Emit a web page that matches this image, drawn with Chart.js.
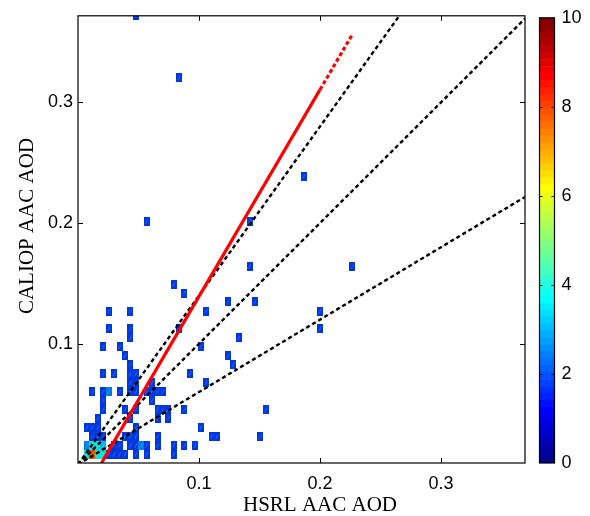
<!DOCTYPE html>
<html><head><meta charset="utf-8">
<script src="https://cdn.jsdelivr.net/npm/chart.js@4/dist/chart.umd.min.js"></script>
<style>
html,body{margin:0;padding:0;background:#fff;}
#wrap{position:relative;width:590px;height:516px;overflow:hidden;}
#main{position:absolute;left:0;top:0;}
#cbar{position:absolute;left:520px;top:0;}
</style></head><body>
<div id="wrap"><canvas id="main" width="590" height="516"></canvas><canvas id="cbar" width="70" height="516"></canvas></div>
<script>
// ---------------- data ----------------
const xTitle = 'HSRL AAC AOD';
const yTitle = 'CALIOP AAC AOD';
const xTicks = [0.1, 0.2, 0.3];
const yTicks = [0.1, 0.2, 0.3];
const cbarTicks = [0, 2, 4, 6, 8, 10];
const xRange = [0, 0.3694];
const yRange = [0.0012, 0.3717];
const binWidthX = 0.00448;   // histogram bin size (HSRL AOD)
const binWidthY = 0.00743;   // histogram bin size (CALIOP AOD)

// 2-D histogram cells: bin centres and values (colour scale 0..10)
const binX = [
 0.0478,0.0836,0.0567,0.1418,0.1865,0.1418,0.2268,0.0880,0.0791,0.1239,0.1462,
 0.0254,0.0433,0.1060,0.2000,
 0.0254,0.0433,0.0836,0.2000,
 0.0433,0.1328,
 0.0209,0.0343,0.1015,
 0.0388,0.1239,
 0.0433,0.1283,
 0.0209,0.0298,0.0433,0.0478,0.0925,
 0.0433,0.0478,0.0612,0.1060,
 0.0119,0.0209,0.0254,0.0343,0.0433,0.0478,0.0567,0.0612,0.0657,0.0701,
 0.0209,0.0612,
 0.0209,0.0388,0.0478,0.0657,0.0701,0.0746,0.0880,0.1552,
 0.0164,0.0433,0.0657,0.0746,
 0.0075,0.0119,0.0164,0.0478,0.1015,
 0.0119,0.0164,0.0209,0.0388,0.0433,0.0478,0.0657,0.1104,0.1149,0.1507,
 0.0075,0.0119,0.0164,0.0209,0.0298,0.0343,0.0433,0.0478,0.0522,0.0567,0.0657,0.0791,0.0880,0.0970,
 0.0075,0.0119,0.0164,0.0209,0.0254,0.0298,0.0343,0.0388,0.0478,0.0567,0.0791
];
const binY = [
 0.3723,0.3203,0.2014,0.2014,0.2386,0.1643,0.1643,0.1420,0.1494,0.1346,0.1346,
 0.1271,0.1271,0.1271,0.1271,
 0.1123,0.1123,0.1123,0.1123,
 0.1048,0.1048,
 0.0974,0.0974,0.0974,
 0.0900,0.0900,
 0.0826,0.0826,
 0.0751,0.0751,0.0751,0.0751,0.0751,
 0.0677,0.0677,0.0677,0.0677,
 0.0603,0.0603,0.0603,0.0603,0.0603,0.0603,0.0603,0.0603,0.0603,0.0603,
 0.0528,0.0528,
 0.0454,0.0454,0.0454,0.0454,0.0454,0.0454,0.0454,0.0454,
 0.0380,0.0380,0.0380,0.0380,
 0.0306,0.0306,0.0306,0.0306,0.0306,
 0.0231,0.0231,0.0231,0.0231,0.0231,0.0231,0.0231,0.0231,0.0231,0.0231,
 0.0157,0.0157,0.0157,0.0157,0.0157,0.0157,0.0157,0.0157,0.0157,0.0157,0.0157,0.0157,0.0157,0.0157,
 0.0083,0.0083,0.0083,0.0083,0.0083,0.0083,0.0083,0.0083,0.0083,0.0083,0.0083
];
const binValue = [
 1.8,1.8,1.8,1.8,1.8,1.8,1.8,1.8,1.8,1.8,1.8,
 1.8,1.8,1.8,1.8,
 1.8,1.8,1.8,1.8,
 1.8,1.8,
 1.8,1.8,1.8,
 1.8,1.8,
 1.8,1.8,
 1.8,1.8,1.8,1.8,1.8,
 1.8,1.8,1.8,1.8,
 1.8,1.8,2.6,1.8,1.8,1.8,1.8,1.8,1.8,1.8,
 1.8,1.8,
 1.8,1.8,1.8,1.8,1.8,1.8,1.8,1.8,
 1.8,1.8,1.8,1.8,
 1.8,1.8,1.8,1.8,1.8,
 1.8,1.8,1.8,1.8,1.8,1.8,1.8,1.8,1.8,1.8,
 2.6,3.8,3.8,3.2,1.8,1.8,1.8,1.8,2.6,1.8,1.8,1.8,1.8,1.8,
 3.8,7.7,3.8,3.8,1.8,1.8,1.8,1.8,1.8,1.8,1.8
];

// reference lines y = s * x (1:1 and +/-40%)
const refSlopes = [1.0, 1.4, 0.6];
// linear fit CALIOP = a * HSRL + b
const fitSlope = 1.713;
const fitIntercept = -0.0321;
const fitSolidX = [0.0194, 0.2000];
const fitDashX = [0.2000, 0.2262];

// ---------------- colour map (MATLAB jet, 64 levels) ----------------
function jetRow(i) { // i = 1..64
  let r, g, b;
  if (i <= 8) { r = 0; g = 0; b = 0.5 + 0.0625 * i; }
  else if (i <= 24) { r = 0; g = (i - 8) * 0.0625; b = 1; }
  else if (i <= 40) { r = (i - 24) * 0.0625; g = 1; b = 1 - (i - 24) * 0.0625; }
  else if (i <= 56) { r = 1; g = 1 - (i - 40) * 0.0625; b = 0; }
  else { r = 1 - (i - 56) * 0.0625; g = 0; b = 0; }
  return [Math.round(r*255), Math.round(g*255), Math.round(b*255)];
}
function rgb(a) { return `rgb(${a[0]},${a[1]},${a[2]})`; }
function jetColor(v) {
  const idx = Math.max(1, Math.min(64, Math.floor(v / 10 * 64) + 1));
  return jetRow(idx);
}

// cell image (pointStyle) sized from the scales
const cellCache = {};
function cellStyle(ctx) {
  const ch = ctx.chart;
  const sx = ch.scales.x, sy = ch.scales.y;
  const raw = ctx.raw || {};
  const w = Math.abs(sx.getPixelForValue(binWidthX) - sx.getPixelForValue(0));
  const h = Math.abs(sy.getPixelForValue(binWidthY) - sy.getPixelForValue(0));
  const c3 = jetColor(raw.v || 0);
  const key = c3.join(',') + '|' + w.toFixed(2) + '|' + h.toFixed(2);
  if (cellCache[key]) return cellCache[key];
  const c = document.createElement('canvas');
  c.width = Math.max(1, Math.round(w) + 1);
  c.height = Math.max(1, Math.round(h));
  const g = c.getContext('2d');
  g.fillStyle = rgb(c3.map(v => Math.round(v * 0.88)));
  g.fillRect(0, 0, c.width, c.height);
  g.strokeStyle = 'rgba(255,255,255,0.28)';
  g.lineWidth = 0.8;
  g.beginPath();
  g.moveTo(c.width * 0.3, c.height * 0.75);
  g.lineTo(c.width * 0.7, c.height * 0.25);
  g.stroke();
  cellCache[key] = c;
  return c;
}

const cells = binX.map((x, i) => ({ x: x, y: binY[i], v: binValue[i] }));

const refSets = [];
refSlopes.forEach(s => {
  const pts = [{ x: xRange[0], y: s * xRange[0] }, { x: xRange[1], y: s * xRange[1] }];
  refSets.push({ type: 'line', data: pts, borderColor: '#9a9a9a', borderWidth: 1, borderDash: [1, 6], borderDashOffset: 2,
    pointRadius: 0, fill: false, clip: 0, order: 2 });
  refSets.push({ type: 'line', data: pts, borderColor: '#000', borderWidth: 2.4, borderDash: [4, 3],
    pointRadius: 0, fill: false, clip: 0, order: 1 });
});

const fitSolid = {
  type: 'line',
  data: fitSolidX.map(x => ({ x: x, y: fitSlope * x + fitIntercept })),
  borderColor: '#ff0000', borderWidth: 3.2, pointRadius: 0, fill: false, clip: 0, order: 0
};
const fitDashed = {
  type: 'line',
  data: fitDashX.map(x => ({ x: x, y: fitSlope * x + fitIntercept })),
  borderColor: '#ff0000', borderWidth: 3.2, borderDash: [4, 2.5], pointRadius: 0, fill: false, clip: 0, order: 0
};

const frameTicks = {
  id: 'frameTicks',
  afterDraw(chart) {
    const { ctx, chartArea: a } = chart;
    const sx = chart.scales.x, sy = chart.scales.y;
    ctx.save();
    ctx.strokeStyle = '#000';
    ctx.lineWidth = 1.2;
    ctx.strokeRect(a.left, a.top, a.right - a.left, a.bottom - a.top);
    ctx.lineWidth = 1;
    const L = 5;
    ctx.beginPath();
    xTicks.forEach(v => {
      const p = Math.round(sx.getPixelForValue(v)) + 0.5;
      ctx.moveTo(p, a.bottom); ctx.lineTo(p, a.bottom - L);
      ctx.moveTo(p, a.top); ctx.lineTo(p, a.top + L);
    });
    yTicks.forEach(v => {
      const p = Math.round(sy.getPixelForValue(v)) + 0.5;
      ctx.moveTo(a.left, p); ctx.lineTo(a.left + L, p);
      ctx.moveTo(a.right, p); ctx.lineTo(a.right - L, p);
    });
    ctx.stroke();
    // axis titles (serif)
    ctx.fillStyle = '#000';
    ctx.font = '21px "Liberation Serif", "Times New Roman", serif';
    ctx.textAlign = 'center';
    ctx.textBaseline = 'alphabetic';
    ctx.fillText(xTitle, 320, 511);
    ctx.translate(33, 226);
    ctx.rotate(-Math.PI / 2);
    ctx.fillText(yTitle, 0, 0);
    ctx.restore();
  }
};

new Chart(document.getElementById('main'), {
  type: 'scatter',
  data: {
    datasets: [
      ...refSets, fitSolid, fitDashed,
      { type: 'scatter', data: cells, pointStyle: cellStyle, pointRadius: 4, clip: 0, order: 5 }
    ]
  },
  options: {
    responsive: false, animation: false, events: [],
    layout: { padding: { top: 14, right: 65, left: 0, bottom: 0 } },
    plugins: { legend: { display: false }, tooltip: { enabled: false } },
    scales: {
      x: {
        type: 'linear', min: xRange[0], max: xRange[1],
        afterBuildTicks: s => { s.ticks = xTicks.map(v => ({ value: v })); },
        afterFit: s => { s.height = 53; },
        grid: { display: false, drawTicks: false }, border: { display: false },
        ticks: { color: '#000', font: { family: '"Liberation Sans", Arial, sans-serif', size: 18 }, padding: 10, maxRotation: 0, autoSkip: false, callback: v => String(v) }
      },
      y: {
        type: 'linear', min: yRange[0], max: yRange[1],
        afterBuildTicks: s => { s.ticks = yTicks.map(v => ({ value: v })); },
        afterFit: s => { s.width = 78; },
        grid: { display: false, drawTicks: false }, border: { display: false },
        ticks: { color: '#000', font: { family: '"Liberation Sans", Arial, sans-serif', size: 18 }, padding: 5, autoSkip: false, callback: v => String(v) }
      }
    }
  },
  plugins: [frameTicks]
});

// ---------------- colour bar ----------------
const cbSets = [];
for (let i = 1; i <= 64; i++) {
  cbSets.push({ data: [[(i - 1) * 10 / 64, i * 10 / 64]], backgroundColor: rgb(jetRow(i)), borderWidth: 0,
    barPercentage: 1, categoryPercentage: 1, grouped: false });
}
const cbFrame = {
  id: 'cbFrame',
  afterDraw(chart) {
    const { ctx, chartArea: a } = chart;
    const sy = chart.scales.y;
    ctx.save();
    ctx.strokeStyle = '#000';
    ctx.lineWidth = 1.2;
    ctx.strokeRect(a.left, a.top, a.right - a.left, a.bottom - a.top);
    ctx.lineWidth = 1;
    ctx.beginPath();
    cbarTicks.forEach(v => {
      if (v === 0 || v === 10) return;
      const p = Math.round(sy.getPixelForValue(v)) + 0.5;
      ctx.moveTo(a.left, p); ctx.lineTo(a.left + 3, p);
      ctx.moveTo(a.right, p); ctx.lineTo(a.right - 3, p);
    });
    ctx.stroke();
    ctx.restore();
  }
};
new Chart(document.getElementById('cbar'), {
  type: 'bar',
  data: { labels: [''], datasets: cbSets },
  options: {
    responsive: false, animation: false, events: [],
    layout: { padding: { top: 14, left: 19.5, bottom: 53, right: 0 } },
    plugins: { legend: { display: false }, tooltip: { enabled: false } },
    scales: {
      x: { display: false },
      y: {
        position: 'right', min: 0, max: 10,
        afterBuildTicks: s => { s.ticks = cbarTicks.map(v => ({ value: v })); },
        afterFit: s => { s.width = 35.5; },
        grid: { display: false, drawTicks: false }, border: { display: false },
        ticks: { color: '#000', font: { family: '"Liberation Sans", Arial, sans-serif', size: 18 }, padding: 7, autoSkip: false }
      }
    }
  },
  plugins: [cbFrame]
});
</script>
</body></html>
